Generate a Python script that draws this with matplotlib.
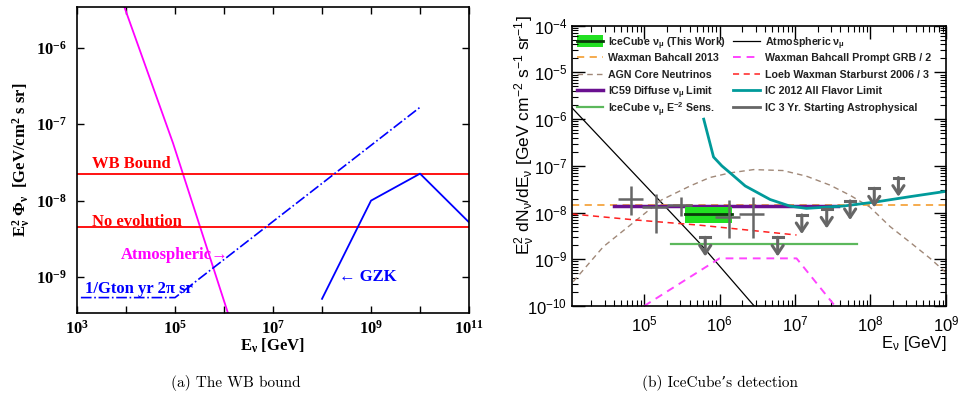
import numpy as np
import matplotlib
matplotlib.use('Agg')
import matplotlib.pyplot as plt
from matplotlib.patches import Rectangle
from matplotlib.ticker import LogLocator, NullFormatter, NullLocator

plt.rcParams['mathtext.default'] = 'regular'

# ---------------- (a) WB bound data ----------------
atm_E = [10**3.90, 10**4.96, 10**6.08]
atm_flux = [10**-5.35, 10**-7.25, 10**-9.47]
wb_bound = 2.25e-8
no_evolution = 4.5e-9
gton_E = [1.2e3, 1e5, 1e10]
gton_flux = [5.4e-10, 5.4e-10, 1.66e-7]
gzk_E = [1e8, 1e9, 1e10, 1e11]
gzk_flux = [5.2e-10, 1e-8, 2.25e-8, 5.2e-9]

# ---------------- (b) IceCube data (log10 values) ----------------
atmnu_logE = [4.04, 5.74, 6.47]
atmnu_logF = [-5.75, -8.66, -10.02]
wb2013 = 1.46e-8
agn_logE = [4.06, 4.46, 4.90, 5.23, 5.61, 5.87, 6.14, 6.45, 6.84, 7.15, 7.46, 7.73,
            7.99, 8.26, 8.52, 8.79, 9.01]
agn_logF = [-9.48, -8.73, -8.16, -7.73, -7.43, -7.25, -7.15, -7.08, -7.10, -7.22, -7.41,
            -7.63, -7.88, -8.30, -8.63, -8.98, -9.30]
ic59_E = [10**4.60, 10**7.57]
ic59_flux = 1.40e-8
sens_E = [10**5.35, 10**7.82]
sens_flux = 2.15e-9
grb_logE = [5.0, 6.0, 7.02, 7.53]
grb_logF = [-10.0, -8.98, -8.98, -10.0]
starburst_logE = [4.04, 4.90, 5.74, 7.02]
starburst_logF = [-8.03, -8.16, -8.27, -8.48]
ic2012_logE = [5.79, 5.92, 6.03, 6.14, 6.34, 6.67, 6.93, 7.15, 7.64, 8.08, 8.52, 9.02]
ic2012_logF = [-6.00, -6.81, -7.00, -7.15, -7.43, -7.72, -7.86, -7.91, -7.86, -7.77,
               -7.66, -7.54]
thiswork_logE = [5.54, 6.17]
thiswork_logF = [-8.22, -8.03, -7.88]   # low, best, high

# IC 3 yr starting events: points with error bars
start_logE = [4.83, 5.155, 5.49, 6.13, 6.44]
start_logE_lo = [4.65, 4.97, 5.30, 5.94, 6.26]
start_logE_hi = [4.99, 5.32, 5.63, 6.27, 6.59]
start_logF = [-7.71, -7.89, -7.84, -8.10, -8.02]
start_logF_lo = [-8.05, -8.44, -8.07, -8.54, -8.54]
start_logF_hi = [-7.43, -7.60, -7.66, -7.73, -7.66]
# upper limits
ul_logE = [5.81, 6.77, 7.09, 7.42, 7.73, 8.05, 8.37]
ul_logF = [-8.53, -8.53, -8.05, -7.93, -7.75, -7.48, -7.25]

fig = plt.figure(figsize=(9.59, 4.05), dpi=100)

# ======================= left panel =======================
serif = ['Liberation Serif', 'DejaVu Serif']
axa = fig.add_axes([0.0803, 0.227, 0.4088, 0.7556])
axa.set_xscale('log')
axa.set_yscale('log')
axa.plot(atm_E, atm_flux, color='#ff00ff', lw=1.3)
axa.axhline(wb_bound, color='#ff0000', lw=1.3)
axa.axhline(no_evolution, color='#ff0000', lw=1.3)
axa.plot(gton_E, gton_flux, color='#0000ff', lw=1.2, ls='-.')
axa.plot(gzk_E, gzk_flux, color='#0000ff', lw=1.3)
axa.set_xlim(1e3, 1e11)
axa.set_ylim(10**-9.47, 10**-5.47)

tf = dict(family=serif, weight='bold', fontsize=12)
axa.text(10**3.31, 10**-7.52, 'WB Bound', color='#ff0000', va='center', **tf)
axa.text(10**3.31, 10**-8.28, 'No evolution', color='#ff0000', va='center', **tf)
axa.text(10**3.9, 10**-8.71, 'Atmospheric→', color='#ff00ff', va='center', **tf)
axa.text(10**3.16, 10**-9.15, '1/Gton yr 2π sr', color='#0000ff', va='center', **tf)
axa.text(10**8.35, 10**-9.0, '← GZK', color='#0000ff', va='center', **tf)

xt = 10.0 ** np.arange(3, 12)
axa.set_xticks(xt, ['$10^{%d}$' % e if e % 2 == 1 else '' for e in range(3, 12)],
               family=serif, weight='bold', fontsize=12)
axa.xaxis.set_minor_locator(NullLocator())
yt = 10.0 ** np.arange(-9, -5)
axa.set_yticks(yt, ['$10^{%d}$' % e for e in range(-9, -5)],
               family=serif, weight='bold', fontsize=12)
axa.yaxis.set_minor_locator(NullLocator())
axa.tick_params(which='both', direction='in', top=True, right=True, length=5, width=1)
axa.tick_params(axis='x', pad=5)
axa.tick_params(axis='y', pad=7)
for s in axa.spines.values():
    s.set_linewidth(1.2)
axa.set_xlabel('E$_ν$ [GeV]', family=serif, weight='bold', fontsize=12)
axa.xaxis.set_label_coords(0.5, -0.078)
axa.set_ylabel('E$_ν^2$ Φ$_ν$  [GeV/cm$^2$ s sr]', family=serif, weight='bold', fontsize=12)
axa.yaxis.set_label_coords(-0.115, 0.5)

# ======================= right panel =======================
sans = ['Liberation Sans', 'DejaVu Sans']
axb = fig.add_axes([0.5961, 0.2444, 0.3903, 0.6921])
axb.set_xscale('log')
axb.set_yscale('log')

p10 = lambda v: 10.0 ** np.asarray(v)

# colours / styles
c_atm = dict(color='black', lw=0.9)
c_wb = dict(color='#f5a540', lw=1.3, ls=(0, (4, 3)))
c_agn = dict(color='#a08878', lw=1.0, ls=(0, (4, 3)))
c_ic59 = dict(color='#6a1090', lw=2.5)
c_sens = dict(color='#5cb85c', lw=1.6)
c_grb = dict(color='#ff44ff', lw=1.4, ls=(0, (4, 3)))
c_sb = dict(color='#ff2020', lw=1.1, ls=(0, (4, 3)))
c_ic12 = dict(color='#009a9a', lw=2.0)
grey = '#666666'
c_start = dict(color=grey, lw=2.0)
box_green = '#22e022'
box_dark = '#0a3a0a'

axb.plot(p10(atmnu_logE), p10(atmnu_logF), **c_atm)
axb.axhline(wb2013, **c_wb)
axb.plot(p10(agn_logE), p10(agn_logF), **c_agn)
axb.plot(p10(starburst_logE), p10(starburst_logF), **c_sb)
axb.plot(p10(grb_logE), p10(grb_logF), **c_grb)
axb.plot(ic59_E, [ic59_flux, ic59_flux], **c_ic59)
axb.plot(sens_E, [sens_flux, sens_flux], **c_sens)
axb.plot(p10(ic2012_logE), p10(ic2012_logF), **c_ic12)

lo, best, hi = p10(thiswork_logF)
e0, e1 = p10(thiswork_logE)
axb.add_patch(Rectangle((e0, lo), e1 - e0, hi - lo, facecolor=box_green, edgecolor='none', zorder=3))
axb.plot([e0, e1], [best, best], color=box_dark, lw=2.0, zorder=4)

sx = p10(start_logE)
sy = p10(start_logF)
axb.errorbar(sx, sy,
             xerr=[sx - p10(start_logE_lo), p10(start_logE_hi) - sx],
             yerr=[sy - p10(start_logF_lo), p10(start_logF_hi) - sy],
             fmt='none', ecolor=grey, elinewidth=1.8, capsize=0, zorder=5)
for le, lf in zip(ul_logE, ul_logF):
    x = 10 ** le
    y = 10 ** lf
    axb.plot([x / 10**0.065, x * 10**0.065], [y, y], color=grey, lw=2.2, zorder=5)
    axb.annotate('', xy=(x, y / 10**0.41), xytext=(x, y),
                 arrowprops=dict(arrowstyle='->,head_length=0.6,head_width=0.4',
                                 color=grey, lw=2.2, shrinkA=0, shrinkB=0), zorder=5)

axb.set_xlim(10**4.04, 1e9)
axb.set_ylim(1e-10, 1e-4)
axb.set_xticks(10.0 ** np.arange(5, 10), ['$10^{%d}$' % e for e in range(5, 10)],
               family=sans, fontsize=12)
axb.xaxis.set_minor_locator(LogLocator(base=10, subs=np.arange(2, 10), numticks=20))
axb.xaxis.set_minor_formatter(NullFormatter())
axb.set_yticks(10.0 ** np.arange(-10, -3), ['$10^{%d}$' % e for e in range(-10, -3)],
               family=sans, fontsize=12)
axb.yaxis.set_minor_locator(LogLocator(base=10, subs=np.arange(2, 10), numticks=20))
axb.yaxis.set_minor_formatter(NullFormatter())
axb.tick_params(which='major', direction='in', top=True, right=True, length=9, width=1)
axb.tick_params(which='minor', direction='in', top=True, right=True, length=4.5, width=0.8)
axb.tick_params(axis='x', pad=6)
axb.tick_params(axis='y', pad=3)
for s in axb.spines.values():
    s.set_linewidth(1.2)

axb.set_xlabel('E$_ν$ [GeV]', family=sans, fontsize=12, ha='right')
axb.xaxis.set_label_coords(1.0, -0.1)
axb.set_ylabel('E$_ν^2$ dN$_ν$/dE$_ν$ [GeV cm$^{-2}$ s$^{-1}$ sr$^{-1}$]', family=sans, fontsize=12.5)
axb.yaxis.set_label_coords(-0.093, 0.61)

# legend drawn by hand in axes coordinates (two columns, five rows)
legend_labels = [
    'IceCube ν$_μ$ (This Work)',
    'Waxman Bahcall 2013',
    'AGN Core Neutrinos',
    'IC59 Diffuse ν$_μ$ Limit',
    'IceCube ν$_μ$ E$^{-2}$ Sens.',
    'Atmospheric ν$_μ$',
    'Waxman Bahcall Prompt GRB / 2',
    'Loeb Waxman Starburst 2006 / 3',
    'IC 2012 All Flavor Limit',
    'IC 3 Yr. Starting Astrophysical',
]
legend_styles = [None, c_wb, c_agn, c_ic59, c_sens, c_atm, c_grb, c_sb, c_ic12, c_start]
col_x = [(0.014, 0.084, 0.097), (0.431, 0.503, 0.517)]
row_y0, row_dy = 0.9465, 0.0589
for i, (lab, st) in enumerate(zip(legend_labels, legend_styles)):
    x0, x1, xt_ = col_x[i // 5]
    y = row_y0 - row_dy * (i % 5)
    if st is None:
        axb.add_patch(Rectangle((x0, y - 0.021), x1 - x0, 0.042, facecolor=box_green,
                                edgecolor='none', transform=axb.transAxes, clip_on=False))
        axb.plot([x0, x1], [y, y], color=box_dark, lw=2.0, transform=axb.transAxes)
    else:
        axb.plot([x0, x1], [y, y], transform=axb.transAxes, **st)
    axb.text(xt_, y, lab, transform=axb.transAxes, family=sans, weight='bold',
             fontsize=7.7, va='center_baseline', ha='left', color='#222222')

# captions
cap = ['cmr10', 'DejaVu Serif']
fig.text(236 / 959, 1 - 383 / 405, '(a) The WB bound', family=cap, fontsize=11,
         ha='center', va='center')
fig.text(720 / 959, 1 - 383 / 405, '(b) IceCube\u2019s detection', family=cap, fontsize=11,
         ha='center', va='center')

fig.savefig('out.png', dpi=100)
